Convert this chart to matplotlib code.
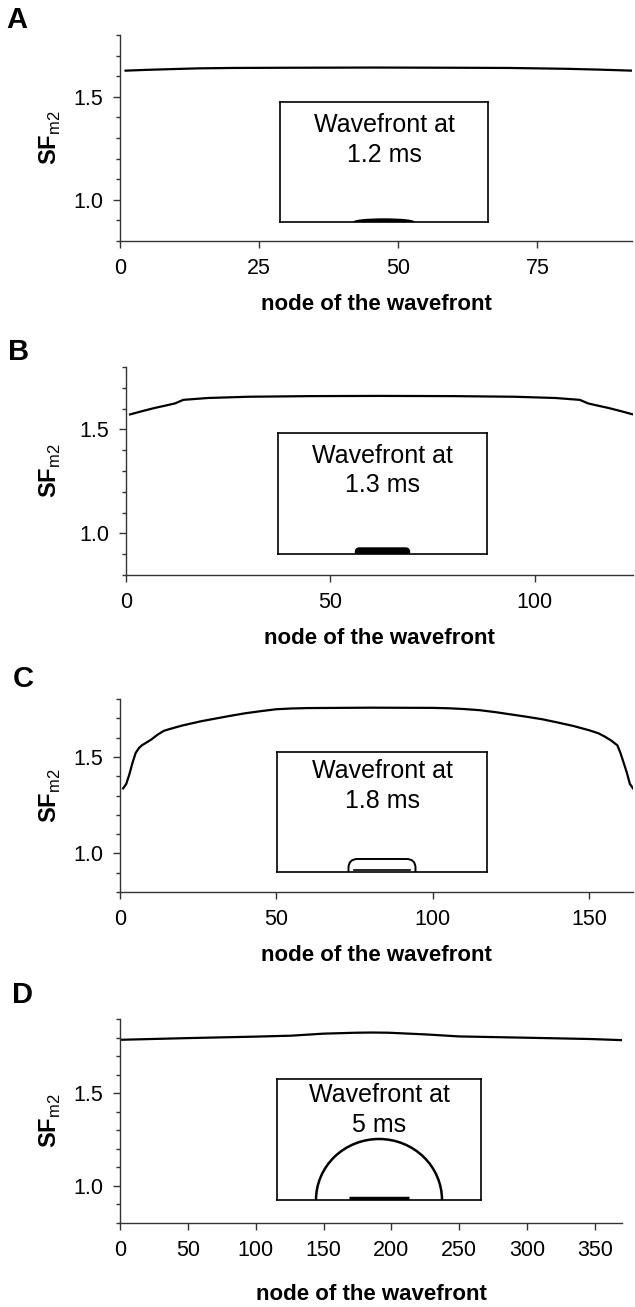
import matplotlib
matplotlib.use("Agg")
import matplotlib.pyplot as plt
from matplotlib.patches import Ellipse, FancyBboxPatch, Arc
from matplotlib.ticker import MultipleLocator, FormatStrFormatter

plt.rcParams['font.family'] = ['Liberation Sans', 'DejaVu Sans']
plt.rcParams['mathtext.fontset'] = 'custom'
plt.rcParams['mathtext.rm'] = 'Liberation Sans'
plt.rcParams['mathtext.bf'] = 'Liberation Sans:bold'

# SF_m2 along the wavefront
a_node = [1, 5, 10, 14, 20, 30, 46, 60, 70, 80, 86, 92]
a_sf = [1.627, 1.631, 1.635, 1.638, 1.640, 1.641, 1.642, 1.641, 1.640, 1.636, 1.632, 1.627]

b_node = [1, 4, 7, 10, 12, 14, 20, 30, 45, 62, 80, 95, 105, 111, 113, 115, 118, 121, 124]
b_sf = [1.572, 1.588, 1.603, 1.616, 1.625, 1.642, 1.651, 1.657, 1.660, 1.661,
        1.660, 1.657, 1.651, 1.642, 1.625, 1.616, 1.603, 1.588, 1.572]

c_node = [1, 2, 3, 4, 5, 6, 7, 8, 10, 12, 14, 16, 20, 26, 30, 35, 40, 45, 50, 55,
          60, 80, 100, 105, 110, 115, 120, 125, 130, 135, 140, 145, 150, 153, 155,
          157, 159, 160, 161, 162, 163, 164]
c_sf = [1.337, 1.36, 1.41, 1.47, 1.52, 1.545, 1.56, 1.57, 1.59, 1.615, 1.635, 1.645,
        1.663, 1.685, 1.697, 1.712, 1.726, 1.737, 1.747, 1.751, 1.753, 1.755, 1.754,
        1.752, 1.748, 1.742, 1.732, 1.72, 1.708, 1.695, 1.678, 1.66, 1.638, 1.622,
        1.605, 1.585, 1.56, 1.52, 1.47, 1.42, 1.36, 1.337]

d_node = [1, 50, 100, 126, 150, 174, 186, 198, 225, 250, 300, 347, 370]
d_sf = [1.788, 1.797, 1.805, 1.810, 1.821, 1.826, 1.827, 1.826, 1.817, 1.806,
        1.799, 1.792, 1.786]

panel_letters = ['A', 'B', 'C', 'D']
wave_times = ['1.2 ms', '1.3 ms', '1.8 ms', '5 ms']
x_max = [92, 124, 164, 370]
x_step = [25, 50, 50, 50]
y_top = [1.8, 1.8, 1.8, 1.9]
# size of the wavefront drawn in the inset (inset pixels)
front_width = [60, 60, 67, 126]
front_height = [3, 6, 13, 61]

nodes = [a_node, b_node, c_node, d_node]
sfs = [a_sf, b_sf, c_sf, d_sf]

W, H = 635, 1307
fig = plt.figure(figsize=(W / 100, H / 100), dpi=100)


def px_rect(l, t, r, b):
    return [l / W, 1 - b / H, (r - l) / W, (b - t) / H]


main_boxes = [(120, 35, 632, 241), (126, 367, 633, 575),
              (120, 699, 633, 892), (120, 1019, 622, 1223)]
inset_boxes = [(280, 102, 488, 222), (278, 433, 487, 554),
               (277, 752, 487, 872), (277, 1079, 481, 1200)]
letter_pos = [(6, 20), (8, 352), (13, 679), (12, 995)]
text_offset = [38, 37.5, 34, 31]
xlabel_pad = [11, 11, 11, 17]

for i in range(4):
    l, t, r, b = main_boxes[i]
    ax = fig.add_axes(px_rect(l, t, r, b))
    ax.plot(nodes[i], sfs[i], color='black', lw=1.6)
    ax.set_xlim(0, x_max[i])
    ax.set_ylim(0.8, y_top[i])
    ax.xaxis.set_major_locator(MultipleLocator(x_step[i]))
    ax.yaxis.set_major_locator(MultipleLocator(0.5))
    ax.yaxis.set_minor_locator(MultipleLocator(0.1))
    ax.yaxis.set_major_formatter(FormatStrFormatter('%.1f'))
    for s in ['top', 'right']:
        ax.spines[s].set_visible(False)
    for s in ['left', 'bottom']:
        ax.spines[s].set_color('#333333')
        ax.spines[s].set_linewidth(1.0)
    ax.tick_params(axis='both', which='major', labelsize=15.5, length=5,
                   width=1, color='#333333', pad=7)
    ax.tick_params(axis='y', which='minor', length=3, width=1, color='#333333')
    ax.set_xlabel('node of the wavefront', fontsize=16, fontweight='bold',
                  labelpad=xlabel_pad[i])
    fig.text(50 / W, 1 - ((t + b) / 2) / H, r'$\mathbf{SF}_{\mathrm{m2}}$',
             fontsize=17, rotation=90, ha='center', va='center')
    fig.text(letter_pos[i][0] / W, 1 - letter_pos[i][1] / H, panel_letters[i],
             fontsize=21, fontweight='bold', ha='left', va='center')

    # inset with the wavefront shape
    il, it, ir, ib = inset_boxes[i]
    w, h = ir - il, ib - it
    ins = fig.add_axes(px_rect(il, it, ir, ib))
    ins.set_xlim(0, w)
    ins.set_ylim(0, h)
    ins.set_xticks([])
    ins.set_yticks([])
    for s in ins.spines.values():
        s.set_linewidth(1.2)
        s.set_color('black')
    ins.text(w / 2, h - text_offset[i], 'Wavefront at\n' + wave_times[i],
             fontsize=18, ha='center', va='center', linespacing=1.3)
    cx = w / 2
    fw, fh = front_width[i], front_height[i]
    if i == 0:
        ins.add_patch(Ellipse((cx, 0), fw, 2 * fh, facecolor='black', edgecolor='black'))
    elif i == 1:
        ins.add_patch(FancyBboxPatch((cx - fw / 2 + 3, -fh), fw - 6, 2 * fh,
                                     boxstyle='round,pad=0,rounding_size=4',
                                     facecolor='black', edgecolor='black', lw=1))
    elif i == 2:
        ins.add_patch(FancyBboxPatch((cx - fw / 2, -fh), fw, 2 * fh,
                                     boxstyle='round,pad=0,rounding_size=9',
                                     facecolor='none', edgecolor='black', lw=1.4))
        ins.plot([cx - 28, cx + 28], [2, 2], color='black', lw=1.2)
    else:
        ins.add_patch(Arc((cx, 0), fw, 2 * fh, theta1=0, theta2=180,
                          edgecolor='black', lw=1.8))
        ins.plot([cx - 30, cx + 30], [2, 2], color='black', lw=2.5,
                 solid_capstyle='butt')

fig.savefig('out.png', dpi=100)
